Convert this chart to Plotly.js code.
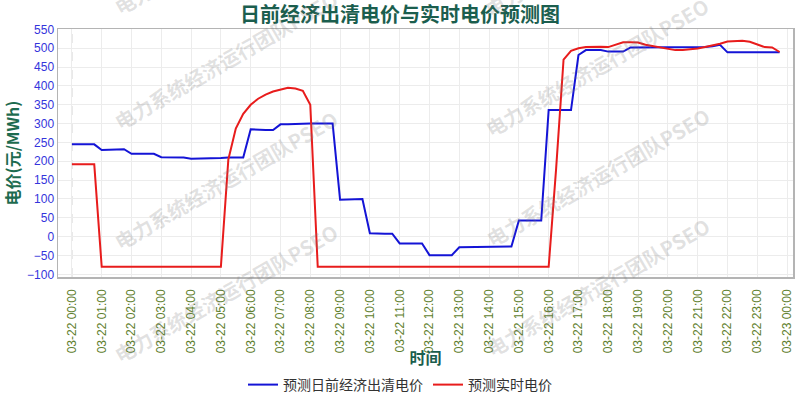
<!DOCTYPE html>
<html>
<head>
<meta charset="utf-8">
<script src="https://cdn.plot.ly/plotly-3.0.1.min.js"></script>
<style>
  html, body { margin: 0; padding: 0; background: #ffffff; }
  #chart { width: 800px; height: 400px; }
</style>
</head>
<body>
<div id="chart"></div>
<script>
// ---- data ----
const chartDate = "2024-03-22";
const times = [
  "00:00","00:15","00:30","00:45","01:00","01:15","01:30","01:45",
  "02:00","02:15","02:30","02:45","03:00","03:15","03:30","03:45",
  "04:00","04:15","04:30","04:45","05:00","05:15","05:30","05:45",
  "06:00","06:15","06:30","06:45","07:00","07:15","07:30","07:45",
  "08:00","08:15","08:30","08:45","09:00","09:15","09:30","09:45",
  "10:00","10:15","10:30","10:45","11:00","11:15","11:30","11:45",
  "12:00","12:15","12:30","12:45","13:00","13:15","13:30","13:45",
  "14:00","14:15","14:30","14:45","15:00","15:15","15:30","15:45",
  "16:00","16:15","16:30","16:45","17:00","17:15","17:30","17:45",
  "18:00","18:15","18:30","18:45","19:00","19:15","19:30","19:45",
  "20:00","20:15","20:30","20:45","21:00","21:15","21:30","21:45",
  "22:00","22:15","22:30","22:45","23:00","23:15","23:30","23:45"
];
const dayAheadPrice = [
  245,245,245,245, 230,230,230,232, 220,220,220,220, 211,210,210,210,
  207,207,207,207, 209,210,210,210, 285,283,283,283, 298,298,299,300,
  300,300,300,300, 98,99,100,100, 9,8,8,8, -18,-18,-18,-18,
  -49,-49,-49,-49, -28,-28,-28,-27, -27,-26,-26,-26, 43,43,43,43,
  336,336,336,336, 482,495,495,495, 491,491,491,502, 502,502,502,502,
  501,501,501,501, 502,503,505,509, 489,489,489,489, 489,489,489,489
];
const realTimePrice = [
  192,192,192,192, -80,-80,-80,-80, -80,-80,-80,-80, -80,-80,-80,-80,
  -80,-80,-80,-80, -80,205,287,326, 350,366,377,385, 391,395,393,387,
  350,-80,-80,-80, -80,-80,-80,-80, -80,-80,-80,-80, -80,-80,-80,-80,
  -80,-80,-80,-80, -80,-80,-80,-80, -80,-80,-80,-80, -80,-80,-80,-80,
  -80,180,470,493, 500,503,504,504, 503,509,516,516, 515,509,505,502,
  499,495,495,496, 499,503,507,512, 518,519,520,517, 511,503,502,490
];
const seriesNames = ["预测日前经济出清电价", "预测实时电价"];
const titleText = "日前经济出清电价与实时电价预测图";
const xTitle = "时间";
const yTitle = "电价(元/MWh)";
const watermarkText = "电力系统经济运行团队PSEO";

// ---- build ----
const xs = times.map(t => chartDate + " " + t);

const M = { l: 58, r: 7, t: 29, b: 123 };
const W = 800, H = 400;
const pw = W - M.l - M.r, ph = H - M.t - M.b;
function px(x) { return (x - M.l) / pw; }
function py(y) { return (H - M.b - y) / ph; }

const wmCenters = [[225,-55],[225,60],[225,180],[225,293],[596,-52],[596,67],[597,177],[597,287]];
const annotations = wmCenters.map(c => ({
  text: watermarkText, xref: "paper", yref: "paper",
  x: px(c[0]), y: py(c[1]), xanchor: "center", yanchor: "middle",
  showarrow: false, textangle: -30,
  font: { family: "Noto Sans CJK SC", size: 20, color: "rgba(120,120,120,0.22)", weight: "bold" }
}));

const traces = [
  { x: xs, y: dayAheadPrice, name: seriesNames[0], type: "scatter", mode: "lines",
    line: { color: "#1414d6", width: 2 } },
  { x: xs, y: realTimePrice, name: seriesNames[1], type: "scatter", mode: "lines",
    line: { color: "#e81c1c", width: 2 } }
];

// x range: pad around the full day (first sample to next midnight)
const start = new Date(chartDate + "T00:00:00");
const left = new Date(start.getTime() - 28 * 60000);
const right = new Date(start.getTime() + (24 * 60 + 12) * 60000);
function fmt(d) {
  const p = n => String(n).padStart(2, "0");
  return d.getFullYear() + "-" + p(d.getMonth() + 1) + "-" + p(d.getDate()) + " " + p(d.getHours()) + ":" + p(d.getMinutes());
}

const layout = {
  width: W, height: H,
  margin: M,
  paper_bgcolor: "#ffffff", plot_bgcolor: "#ffffff",
  title: { text: titleText, x: 0.5, xanchor: "center", xref: "container", y: 1 - 15 / H, yanchor: "middle", yref: "container",
    font: { family: "Noto Sans CJK SC", size: 20, color: "#1b5e4e", weight: "bold" } },
  xaxis: {
    type: "date",
    range: [fmt(left), fmt(right)],
    automargin: false,
    tick0: xs[0], dtick: 3600000,
    tickformat: "%m-%d %H:%M", tickangle: -90,
    tickprefix: "\u00a0\u00a0",
    tickfont: { family: "Liberation Sans", size: 12, color: "#5f7f2f" },
    ticklabelstandoff: 6,
    showgrid: true, gridcolor: "#ececec", gridwidth: 1,
    showline: true, mirror: true, linecolor: "#b4b4b4", linewidth: 1.5,
    zeroline: false,
    title: { text: xTitle,
      font: { family: "Noto Sans CJK SC", size: 16, color: "#1b5e4e", weight: "bold" } }
  },
  yaxis: {
    range: [-107, 551],
    automargin: false,
    tick0: -100, dtick: 50,
    tickfont: { family: "Liberation Sans", size: 12, color: "#3434dc" },
    showgrid: true, gridcolor: "#ececec", gridwidth: 1,
    showline: true, mirror: true, linecolor: "#b4b4b4", linewidth: 1.5,
    zeroline: false,
    title: { text: yTitle,
      font: { family: "Noto Sans CJK SC", size: 16, color: "#1d6b4f", weight: "bold" } }
  },
  legend: {
    orientation: "h", xref: "container", x: 0.5, xanchor: "center",
    yref: "container", y: 1 - 385 / H, yanchor: "middle",
    font: { family: "Noto Sans CJK SC", size: 14, color: "#333333" },
    itemwidth: 30, bgcolor: "rgba(0,0,0,0)"
  },
  shapes: [
    { type: "line", xref: "x", yref: "paper", x0: xs[0], x1: xs[0], y0: 0, y1: 1,
      line: { color: "#c8c8c8", width: 1, dash: "dash" }, layer: "below" }
  ],
  annotations: annotations
};

Plotly.newPlot("chart", traces, layout, { displayModeBar: false, staticPlot: true });
</script>
</body>
</html>
